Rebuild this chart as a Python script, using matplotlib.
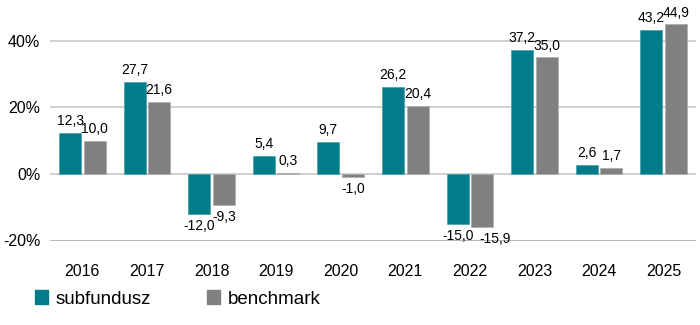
import matplotlib
matplotlib.use("Agg")
import matplotlib.pyplot as plt
from matplotlib.patches import Patch
import numpy as np

plt.rcParams['font.family'] = ['Liberation Sans', 'DejaVu Sans']

years = ["2016", "2017", "2018", "2019", "2020", "2021", "2022", "2023", "2024", "2025"]
subfundusz = [12.3, 27.7, -12.0, 5.4, 9.7, 26.2, -15.0, 37.2, 2.6, 43.2]
benchmark = [10.0, 21.6, -9.3, 0.3, -1.0, 20.4, -15.9, 35.0, 1.7, 44.9]
series_names = ["subfundusz", "benchmark"]
yticks = [-20, 0, 20, 40]

teal = "#007C8A"
gray = "#808080"

fig = plt.figure(figsize=(7, 3.25), dpi=100)
ax = fig.add_axes([50/700, 1-240.5/325, 646/700, 233/325])

x = np.arange(len(years))
w = 0.34
off = 0.19
b1 = ax.bar(x - off, subfundusz, w, color=teal, edgecolor="#4FA3AD", linewidth=0.6, zorder=3)
b2 = ax.bar(x + off, benchmark, w, color=gray, edgecolor="#B0B0B0", linewidth=0.6, zorder=3)

ax.set_xlim(-0.5, len(years) - 0.5)
ax.set_ylim(-20, 50)
ax.set_yticks(yticks)
ax.set_yticklabels([f"{v}%" for v in yticks])
ax.set_xticks(x)
ax.set_xticklabels(years)
ax.tick_params(axis='both', length=0, labelsize=11.5, colors="black")
ax.tick_params(axis='x', pad=17)
ax.tick_params(axis='y', pad=7)
for s in ax.spines.values():
    s.set_visible(False)
for v in yticks:
    ax.axhline(v, color="#A8A8A8" if v == -20 else "#C8C8C8", linewidth=1.2, zorder=1)

def fmt(v):
    return f"{v:.1f}".replace(".", ",")

nudge = {("b", 6): 9}
for key, bars, vals in (("s", b1, subfundusz), ("b", b2, benchmark)):
    for i, (bar, v) in enumerate(zip(bars, vals)):
        cx = bar.get_x() + bar.get_width() / 2
        dx = nudge.get((key, i), 0)
        if v >= 0:
            ax.annotate(fmt(v), (cx, v), xytext=(dx, 3.5), textcoords="offset points",
                        ha="center", va="bottom", fontsize=10)
        else:
            ax.annotate(fmt(v), (cx, v), xytext=(dx, -3.5), textcoords="offset points",
                        ha="center", va="top", fontsize=10)

handles = [Patch(facecolor=teal, edgecolor=teal), Patch(facecolor=gray, edgecolor=gray)]
fig.legend(handles, series_names, loc="center left", bbox_to_anchor=(35/700, 1-299/325),
           frameon=False, ncol=2, fontsize=13.5, handlelength=0.7, handleheight=0.7,
           handletextpad=0.4, columnspacing=3.0, borderpad=0, borderaxespad=0)

fig.savefig("out.png", dpi=100)
